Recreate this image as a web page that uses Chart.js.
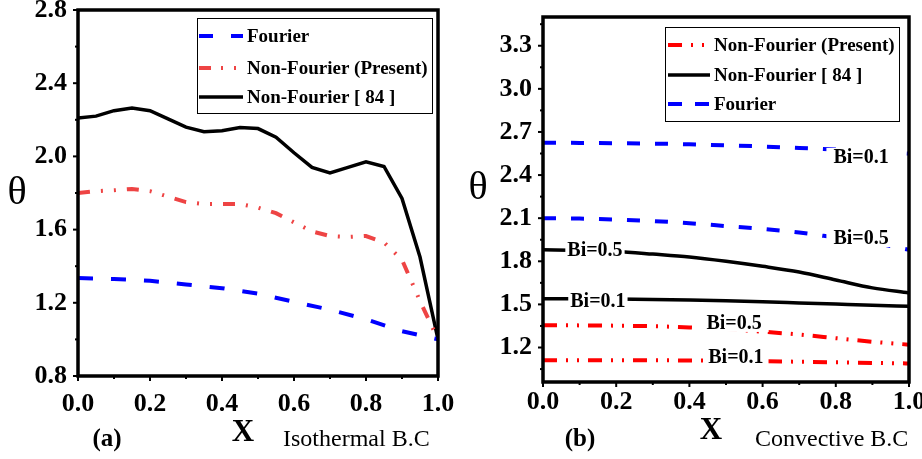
<!DOCTYPE html>
<html>
<head>
<meta charset="utf-8">
<script src="https://cdn.jsdelivr.net/npm/chart.js@4.4.1/dist/chart.umd.min.js"></script>
<style>
  body{margin:0;background:#fff;}
  canvas{position:absolute;top:0;}
</style>
</head>
<body>
<canvas id="chartA" width="460" height="459" style="left:0"></canvas>
<canvas id="chartB" width="462" height="459" style="left:460px"></canvas>
<script>
// ---- panel (a): isothermal B.C ----
const xFineA = [0,0.05,0.1,0.15,0.2,0.25,0.3,0.35,0.4,0.45,0.5,0.55,0.6,0.65,0.7,0.75,0.8,0.85,0.9,0.95,1.0];
const nonFourier84A = [2.21,2.22,2.25,2.265,2.25,2.205,2.16,2.135,2.14,2.158,2.152,2.105,2.02,1.94,1.91,1.94,1.97,1.945,1.77,1.45,1.0];
const nonFourierPresentA = [1.80,1.81,1.815,1.822,1.81,1.78,1.75,1.74,1.74,1.74,1.72,1.69,1.64,1.59,1.565,1.56,1.565,1.53,1.435,1.21,1.0];
const xCoarseA = [0,0.1,0.2,0.3,0.4,0.5,0.6,0.7,0.8,0.9,1.0];
const fourierA = [1.335,1.33,1.32,1.30,1.28,1.25,1.205,1.162,1.11,1.045,1.0];
const yTicksA = [0.8,1.2,1.6,2.0,2.4,2.8];
const xTicks = [0,0.2,0.4,0.6,0.8,1.0];

// ---- panel (b): convective B.C ----
const xB = [0,0.1,0.2,0.3,0.4,0.5,0.6,0.7,0.8,0.9,1.0];
const fourierBi01 = [2.625,2.624,2.622,2.619,2.614,2.607,2.599,2.589,2.578,2.565,2.55];
const fourierBi05 = [2.10,2.097,2.09,2.08,2.065,2.045,2.025,2.0,1.965,1.93,1.88];
const nf84Bi05 = [1.88,1.877,1.868,1.85,1.83,1.80,1.765,1.725,1.67,1.615,1.58];
const nf84Bi01 = [1.54,1.539,1.537,1.534,1.53,1.525,1.518,1.51,1.502,1.494,1.487];
const nfPresentBi05 = [1.355,1.354,1.352,1.348,1.34,1.328,1.31,1.29,1.265,1.24,1.22];
const nfPresentBi01 = [1.112,1.112,1.112,1.111,1.11,1.108,1.105,1.101,1.097,1.093,1.089];
const yTicksB = [1.2,1.5,1.8,2.1,2.4,2.7,3.0,3.3];

const SERIF = "'Liberation Serif', 'Times New Roman', serif";
const pts = (xs, ys) => xs.map((x, i) => ({x, y: ys[i]}));

function lineDs(label, data, color, dash, width, smooth){
  return { label, data, borderColor: color, backgroundColor: color, borderDash: dash,
    borderWidth: width, pointRadius: 0, fill: false, borderCapStyle: 'butt',
    tension: smooth ? 0.4 : 0, cubicInterpolationMode: smooth ? 'monotone' : 'default' };
}

// frame, ticks, legend box, curve labels and captions
const decor = {
  id: 'decor',
  afterDatasetsDraw(chart, args, o){
    const {ctx, scales: {x, y}} = chart;
    ctx.save();
    // curve labels with white background
    (o.curveLabels || []).forEach(l => {
      ctx.font = 'bold 20px ' + SERIF;
      const w = ctx.measureText(l.text).width;
      const px = x.getPixelForValue(l.x), py = y.getPixelForValue(l.y);
      ctx.fillStyle = '#fff';
      ctx.fillRect(px - w/2 - l.pad, py - 9, w + 2*l.pad, 18);
      ctx.fillStyle = '#000';
      ctx.textAlign = 'center'; ctx.textBaseline = 'middle';
      ctx.fillText(l.text, px, py + 1);
    });
    ctx.restore();
  },
  afterDraw(chart, args, o){
    const {ctx, chartArea: a, scales: {x, y}} = chart;
    ctx.save();
    ctx.strokeStyle = '#000';
    ctx.lineWidth = 2;
    o.xMinor.forEach(v => {
      const p = x.getPixelForValue(v), len = o.xMajor.includes(v) ? 5 : 3;
      ctx.beginPath(); ctx.moveTo(p, a.bottom); ctx.lineTo(p, a.bottom + len); ctx.stroke();
    });
    o.yMinor.forEach(v => {
      const p = y.getPixelForValue(v), len = o.yMajor.includes(v) ? 5 : 3;
      ctx.beginPath(); ctx.moveTo(a.left, p); ctx.lineTo(a.left - len, p); ctx.stroke();
    });
    ctx.lineWidth = 3.5;
    ctx.strokeRect(a.left, a.top, a.right - a.left, a.bottom - a.top);

    // legend
    const L = o.legend;
    ctx.lineWidth = 1;
    ctx.strokeRect(L.left + 0.5, L.top + 0.5, L.right - L.left, L.bottom - L.top);
    L.items.forEach(it => {
      const ds = chart.data.datasets[it.ds];
      ctx.beginPath();
      ctx.setLineDash(it.dash || []);
      ctx.strokeStyle = ds.borderColor;
      ctx.lineWidth = ds.borderWidth;
      ctx.lineCap = 'butt';
      ctx.moveTo(L.sampleX0, it.y); ctx.lineTo(L.sampleX1, it.y); ctx.stroke();
      ctx.setLineDash([]);
      ctx.fillStyle = '#000';
      ctx.font = 'bold 19px ' + SERIF;
      ctx.textAlign = 'left'; ctx.textBaseline = 'middle';
      ctx.fillText(it.text, L.textX, it.y + 1);
    });

    // axis titles and captions
    o.texts.forEach(t => {
      ctx.fillStyle = '#000';
      ctx.font = t.font;
      ctx.textAlign = t.align || 'center'; ctx.textBaseline = 'middle';
      ctx.fillText(t.text, t.x, t.y);
    });
    ctx.restore();
  }
};

function axes(yMin, yMax, yTicks, yWidth, xHeight, xPad){
  const tickFont = { family: SERIF, size: 26, weight: 'bold' };
  return {
    x: { type: 'linear', min: 0, max: 1,
      afterBuildTicks: s => { s.ticks = xTicks.map(v => ({value: v})); },
      ticks: { font: tickFont, color: '#000', padding: xPad, maxRotation: 0, autoSkip: false,
        callback: v => v.toFixed(1) },
      grid: { display: false, drawTicks: false }, border: { display: false },
      afterFit: s => { s.height = xHeight; s.paddingLeft = 0; s.paddingRight = 0; } },
    y: { type: 'linear', min: yMin, max: yMax,
      afterBuildTicks: s => { s.ticks = yTicks.map(v => ({value: v})); },
      ticks: { font: tickFont, color: '#000', padding: 11, autoSkip: false,
        callback: v => v.toFixed(1) },
      grid: { display: false, drawTicks: false }, border: { display: false },
      afterFit: s => { s.width = yWidth; s.paddingTop = 0; s.paddingBottom = 0; } }
  };
}

const minorX = [0,0.1,0.2,0.3,0.4,0.5,0.6,0.7,0.8,0.9,1.0];
const dashBlueA = [15,18], dashRedA = [12,11,2,11,2,11];
const dashBlueB = [13,15], dashRedB = [14,9,2,9,2,9];

new Chart(document.getElementById('chartA'), {
  type: 'line',
  data: { datasets: [
    lineDs('Fourier', pts(xCoarseA, fourierA), '#0000ff', dashBlueA, 4, false),
    lineDs('Non-Fourier (Present)', pts(xFineA, nonFourierPresentA), '#ee4444', dashRedA, 4, false),
    lineDs('Non-Fourier [ 84 ]', pts(xFineA, nonFourier84A), '#000000', [], 3.5, false)
  ]},
  options: {
    responsive: false, animation: false, events: [],
    layout: { padding: { top: 10, right: 22, left: 0, bottom: 0 } },
    scales: axes(0.8, 2.8, yTicksA, 78, 83, 13),
    plugins: {
      legend: { display: false }, tooltip: { enabled: false },
      decor: {
        xMajor: xTicks, xMinor: minorX,
        yMajor: yTicksA, yMinor: [0.8,1.0,1.2,1.4,1.6,1.8,2.0,2.2,2.4,2.6,2.8],
        legend: { left: 197, top: 18, right: 432, bottom: 113, sampleX0: 199, sampleX1: 243, textX: 247,
          items: [
            { ds: 0, text: 'Fourier', y: 36, dash: [14,18] },
            { ds: 1, text: 'Non-Fourier (Present)', y: 68, dash: [12,10,2,11,2,11] },
            { ds: 2, text: 'Non-Fourier [ 84 ]', y: 97 }
          ] },
        texts: [
          { text: 'θ', x: 17, y: 193, font: '40px ' + SERIF },
          { text: 'X', x: 243, y: 433, font: 'bold 31px ' + SERIF },
          { text: '(a)', x: 107, y: 440, font: 'bold 25px ' + SERIF },
          { text: 'Isothermal B.C', x: 283, y: 440, align: 'left', font: '24px ' + SERIF }
        ]
      }
    }
  },
  plugins: [decor]
});

new Chart(document.getElementById('chartB'), {
  type: 'line',
  data: { datasets: [
    lineDs('Non-Fourier (Present)', pts(xB, nfPresentBi05), '#ff0000', dashRedB, 4, true),
    lineDs('Non-Fourier [ 84 ]', pts(xB, nf84Bi05), '#000000', [], 3.5, true),
    lineDs('Fourier', pts(xB, fourierBi01), '#0000ff', dashBlueB, 4, true),
    lineDs('Non-Fourier (Present) Bi=0.1', pts(xB, nfPresentBi01), '#ff0000', dashRedB, 4, true),
    lineDs('Non-Fourier [ 84 ] Bi=0.1', pts(xB, nf84Bi01), '#000000', [], 3.5, true),
    lineDs('Fourier Bi=0.5', pts(xB, fourierBi05), '#0000ff', dashBlueB, 4, true)
  ]},
  options: {
    responsive: false, animation: false, events: [],
    layout: { padding: { top: 17, right: 13, left: 0, bottom: 0 } },
    scales: axes(0.96, 3.5, yTicksB, 83, 77, 5),
    plugins: {
      legend: { display: false }, tooltip: { enabled: false },
      decor: {
        xMajor: xTicks, xMinor: minorX,
        yMajor: yTicksB, yMinor: [1.05,1.2,1.35,1.5,1.65,1.8,1.95,2.1,2.25,2.4,2.55,2.7,2.85,3.0,3.15,3.3,3.45],
        curveLabels: [
          { text: 'Bi=0.1', x: 0.869, y: 2.526, pad: 7 },
          { text: 'Bi=0.5', x: 0.869, y: 1.962, pad: 7 },
          { text: 'Bi=0.5', x: 0.142, y: 1.879, pad: 2 },
          { text: 'Bi=0.1', x: 0.150, y: 1.524, pad: 2 },
          { text: 'Bi=0.5', x: 0.522, y: 1.371, pad: 7 },
          { text: 'Bi=0.1', x: 0.527, y: 1.134, pad: 5 }
        ],
        legend: { left: 205, top: 27, right: 439, bottom: 121, sampleX0: 208, sampleX1: 250, textX: 254,
          items: [
            { ds: 0, text: 'Non-Fourier (Present)', y: 45, dash: [14,9,2,9,2,9] },
            { ds: 1, text: 'Non-Fourier [ 84 ]', y: 75 },
            { ds: 2, text: 'Fourier', y: 104, dash: [14,13] }
          ] },
        texts: [
          { text: 'θ', x: 18, y: 188, font: '40px ' + SERIF },
          { text: 'X', x: 251, y: 431, font: 'bold 31px ' + SERIF },
          { text: '(b)', x: 120, y: 440, font: 'bold 25px ' + SERIF },
          { text: 'Convective B.C', x: 295, y: 440, align: 'left', font: '24px ' + SERIF }
        ]
      }
    }
  },
  plugins: [decor]
});
</script>
</body>
</html>
